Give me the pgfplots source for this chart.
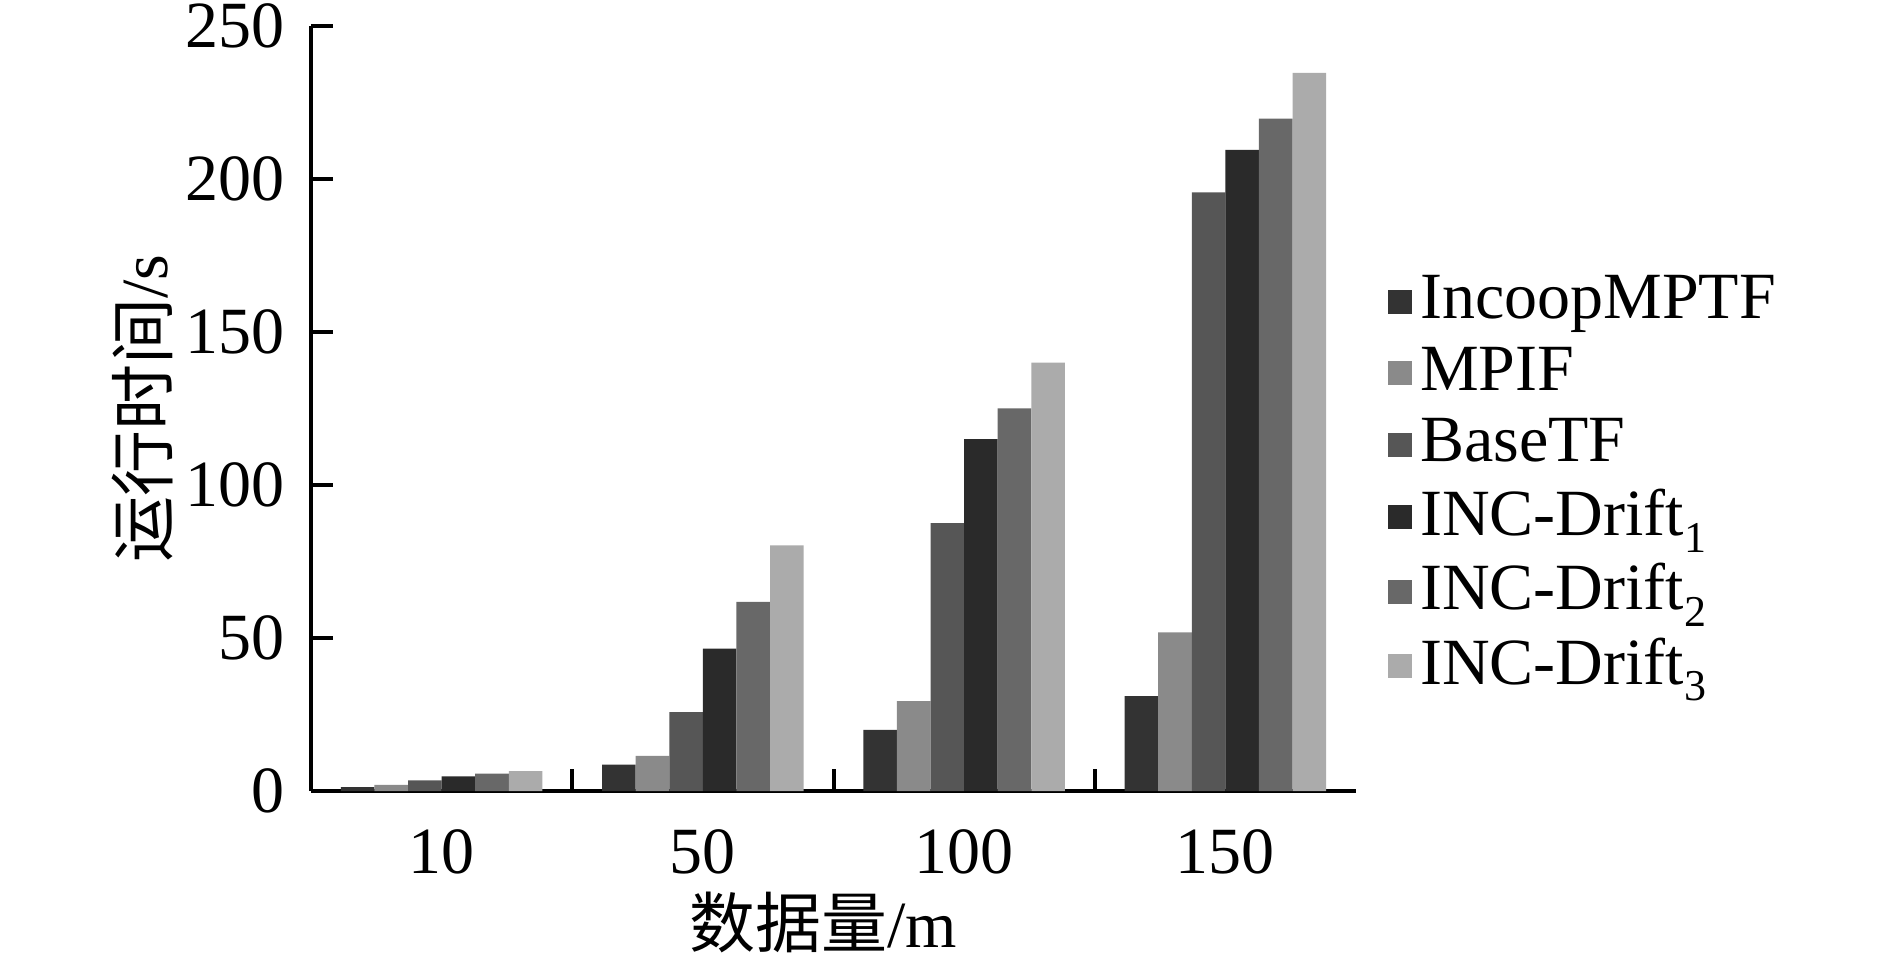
\documentclass[border=0pt]{standalone}
\usepackage{fontspec}
\setmainfont{Liberation Serif}
\newfontfamily\cjk{Noto Sans CJK SC}
\usepackage{pgfplots}
\pgfplotsset{compat=1.18}

\definecolor{cA}{HTML}{333333}
\definecolor{cB}{HTML}{8A8A8A}
\definecolor{cC}{HTML}{565656}
\definecolor{cD}{HTML}{2A2A2A}
\definecolor{cE}{HTML}{686868}
\definecolor{cF}{HTML}{ABABAB}

\newcommand{\sub}[1]{\raisebox{-0.55ex}{\fontsize{11}{11}\selectfont #1}}

\begin{document}
\fontsize{16.5}{19}\selectfont
\begin{tikzpicture}
\begin{axis}[
  name=ax,
  scale only axis,
  width=261.25pt, height=191.25pt,
  ybar=0pt, bar width=8.4pt,
  xmin=-0.5, xmax=3.5,
  ymin=0, ymax=250,
  ytick={0,50,...,250},
  xtick={0.5,1.5,2.5},
  xticklabels={},
  extra x ticks={0,1,2,3},
  extra x tick labels={10,50,100,150},
  extra x tick style={major tick length=0pt, tick style={draw=none}},
  axis lines=left,
  axis line style={-, line width=1pt},
  tick align=inside,
  major tick length=5.5pt,
  tick style={line width=1pt, black},
  tick label style={font=\fontsize{16.5}{19}\selectfont},
  /pgf/number format/assume math mode=true,
  xticklabel shift=4pt,
  yticklabel shift=1pt,
  xlabel={{\cjk 数据量}/m},
  ylabel={{\cjk 运行时间}/s},
  label style={font=\fontsize{16.5}{19}\selectfont},
  xlabel style={at={(axis description cs:0.49,-0.172)}, anchor=center},
  ylabel style={at={(axis description cs:-0.161,0.5)}, anchor=center},
  legend style={at={(1.03,0.40)}, anchor=west, draw=none, fill=none,
    font=\fontsize{16.5}{19}\selectfont, row sep=0.5pt,
    inner sep=0pt},
  legend cell align=left,
  legend image code/.code={\fill[#1] (0pt,-3pt) rectangle (6pt,3pt);},
]
\addplot[fill=cA, draw=none] coordinates {(0,1.3) (1,8.6) (2,20) (3,31)};
\addplot[fill=cB, draw=none] coordinates {(0,2.0) (1,11.5) (2,29.4) (3,51.8)};
\addplot[fill=cC, draw=none] coordinates {(0,3.5) (1,25.8) (2,87.5) (3,195.6)};
\addplot[fill=cD, draw=none] coordinates {(0,4.8) (1,46.5) (2,115) (3,209.5)};
\addplot[fill=cE, draw=none] coordinates {(0,5.7) (1,61.8) (2,125) (3,219.7)};
\addplot[fill=cF, draw=none] coordinates {(0,6.5) (1,80.3) (2,140) (3,234.7)};
\legend{IncoopMPTF, MPIF, BaseTF, INC-Drift\sub{1}, INC-Drift\sub{2}, INC-Drift\sub{3}}
\end{axis}
\pgfresetboundingbox
\path (ax.south west) ++(-77.75pt,-45.5pt) coordinate (bl);
\path (ax.north east) ++(133.5pt,6.5pt) coordinate (tr);
\useasboundingbox (bl) rectangle (tr);
\end{tikzpicture}
\end{document}
